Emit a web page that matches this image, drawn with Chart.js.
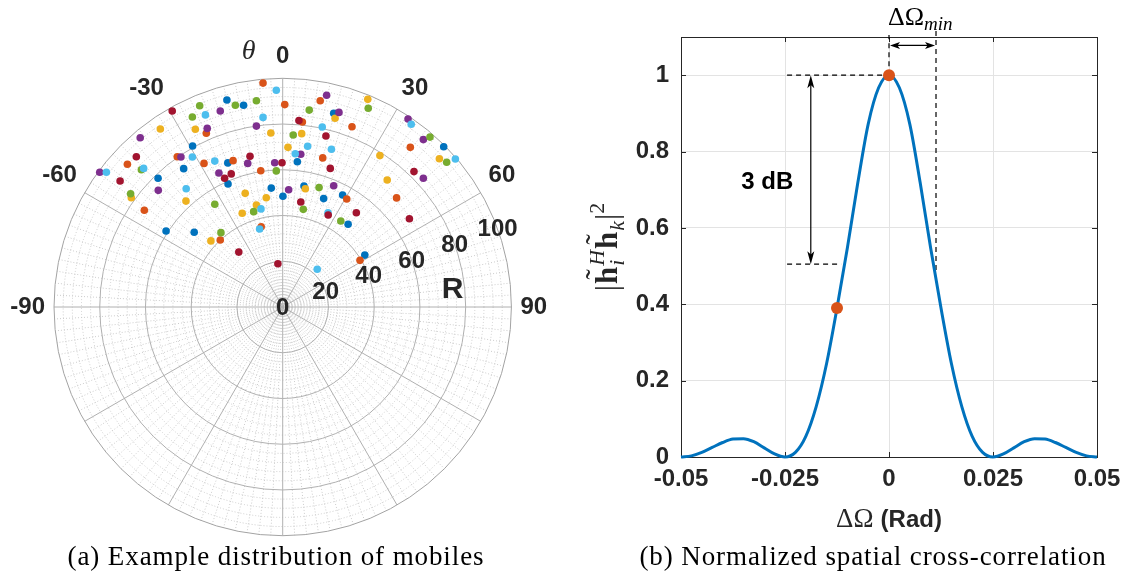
<!DOCTYPE html>
<html>
<head>
<meta charset="utf-8">
<title>Mobiles and spatial cross-correlation</title>
<script src="https://cdn.jsdelivr.net/npm/chart.js@4.4.1/dist/chart.umd.min.js"></script>
<style>
    html, body { margin: 0; padding: 0; background: #fff; }
    body { width: 1129px; height: 580px; position: relative; overflow: hidden; }
    .panel { position: absolute; top: 0; }
    #polarPanel { left: 0; }
    #corrPanel { left: 565px; }
    .caption {
        position: absolute;
        top: 541px;
        line-height: 30px;
        font-family: "Liberation Serif", "Times New Roman", serif;
        font-size: 27px;
        letter-spacing: 0.9px;
        color: #000;
        white-space: nowrap;
        transform: translateX(-50%);
    }
</style>
</head>
<body>
<div class="panel" id="polarPanel"><canvas id="polarChart" width="565" height="580"></canvas></div>
<div class="panel" id="corrPanel"><canvas id="corrChart" width="564" height="580"></canvas></div>
<div class="caption" style="left:276px">(a) Example distribution of mobiles</div>
<div class="caption" style="left:873px">(b) Normalized spatial cross-correlation</div>

<script>
/**
 * Left: mobile positions per cluster, [east, north] offsets in metres
 */
const cluster1 = [[-39.4, 70.4], [-43.3, 60.5], [-24.4, 90.5], [-17.1, 88.2], [22.3, 84.7], [-24.0, 63.0],
    [-23.9, 53.8], [6.4, 63.5], [70.4, 70.1], [-54.5, 56.3], [-51.0, 33.2], [-38.7, 32.7], [-5.0, 52.0],
    [0.1, 48.4], [9.3, 52.9], [17.9, 47.4], [26.2, 49.0], [28.6, 36.2], [35.9, 22.7]];
const cluster2 = [[-8.6, 97.9], [0.9, 88.5], [16.4, 90.2], [8.6, 80.9], [-33.4, 76.0], [-67.9, 62.4],
    [-46.1, 65.7], [-34.4, 62.8], [-21.7, 64.0], [17.5, 65.2], [-9.6, 59.6], [30.3, 78.8], [55.8, 69.8],
    [-60.5, 42.3], [-27.3, 29.3], [-9.4, 35.1], [28.0, 47.2], [49.8, 47.7], [33.8, 20.4]];
const cluster3 = [[-53.5, 77.8], [-38.2, 77.7], [-5.2, 76.1], [8.3, 75.8], [22.9, 82.5], [2.3, 69.8],
    [37.2, 90.8], [42.5, 66.2], [68.5, 64.8], [-66.2, 47.8], [-42.3, 46.3], [-31.4, 28.9], [-16.4, 49.7],
    [-7.2, 47.8], [9.9, 51.7], [-11.5, 44.6], [-17.7, 41.0], [45.7, 55.5]];
const cluster4 = [[-33.0, 78.1], [-62.3, 74.0], [-44.5, 65.6], [-80.0, 58.9], [-27.3, 85.7], [19.2, 92.6],
    [24.6, 85.1], [-11.5, 79.1], [7.9, 66.8], [-15.3, 62.8], [-3.5, 63.1], [-27.9, 58.6], [54.8, 82.2],
    [61.5, 73.2], [-54.4, 51.0], [2.6, 51.3], [22.3, 53.0], [61.5, 56.3]];
const cluster5 = [[-36.3, 88.0], [-39.5, 83.1], [-20.7, 88.2], [-11.5, 90.2], [11.6, 86.1], [4.6, 75.2],
    [-61.8, 60.0], [-2.8, 59.5], [37.4, 86.9], [64.4, 74.3], [71.7, 63.3], [-66.5, 49.5], [-29.7, 44.9],
    [15.9, 52.2], [-12.7, 41.7], [9.0, 42.7], [25.4, 37.6], [-27.0, 32.5]];
const cluster6 = [[-2.8, 94.8], [-33.8, 84.0], [-8.6, 82.9], [-39.5, 65.6], [-60.8, 60.6], [-77.1, 58.9],
    [-29.7, 63.8], [17.3, 78.7], [10.9, 70.3], [21.3, 69.0], [5.5, 67.0], [56.2, 79.9], [75.5, 64.7],
    [-42.2, 51.7], [-9.5, 42.9], [19.8, 41.2], [-10.1, 34.1], [15.1, 16.5]];
const cluster7 = [[-48.3, 85.7], [7.1, 81.5], [18.9, 74.8], [-64.0, 65.7], [-14.3, 65.9], [-0.3, 63.1],
    [20.8, 60.6], [-22.5, 58.2], [-25.4, 56.3], [-71.1, 55.1], [7.9, 45.9], [19.9, 40.2], [32.2, 41.2],
    [55.4, 38.6], [57.4, 59.2], [-19.2, 24.0], [-2.1, 18.9]];

const clusterColors = ['#0072BD', '#D95319', '#EDB120', '#7E2F8E', '#77AC30', '#4DBEEE', '#A2142F'];

const thetaTicks = [-90, -60, -30, 0, 30, 60, 90];
const thetaTickLabels = ['-90', '-60', '-30', '0', '30', '60', '90'];
const rTicks = [0, 20, 40, 60, 80, 100];
const rTickLabels = ['0', '20', '40', '60', '80', '100'];

/**
 * Right: normalized cross-correlation against angular separation (rad)
 */
const deltaOmega = [-0.05, -0.0475, -0.045, -0.0425, -0.04, -0.0375, -0.035, -0.0325, -0.03, -0.0275,
    -0.025, -0.0225, -0.02, -0.0175, -0.015, -0.0125, -0.01, -0.0075, -0.005, -0.0025,
    0, 0.0025, 0.005, 0.0075, 0.01, 0.0125, 0.015, 0.0175, 0.02, 0.0225,
    0.025, 0.0275, 0.03, 0.0325, 0.035, 0.0375, 0.04, 0.0425, 0.045, 0.0475, 0.05];
const correlation = [0.000, 0.003, 0.012, 0.025, 0.038, 0.047, 0.048, 0.040, 0.024, 0.008,
    0.000, 0.012, 0.054, 0.132, 0.245, 0.390, 0.548, 0.718, 0.872, 0.967,
    1.000, 0.967, 0.872, 0.718, 0.548, 0.390, 0.245, 0.132, 0.054, 0.012,
    0.000, 0.008, 0.024, 0.040, 0.048, 0.047, 0.038, 0.025, 0.012, 0.003, 0.000];
const markerOmega = [0, -0.0125];
const markerCorr = [1, 0.39];

const xTicks = [-0.05, -0.025, 0, 0.025, 0.05];
const xTickLabels = ['-0.05', '-0.025', '0', '0.025', '0.05'];
const yTicks = [0, 0.2, 0.4, 0.6, 0.8, 1];
const yTickLabels = ['0', '0.2', '0.4', '0.6', '0.8', '1'];

// annotation levels: 3 dB span and minimum separation
const halfPower = 0.505;
const minSeparation = 0.0113;

const SANS = '"Liberation Sans", Arial, sans-serif';
const SERIF = '"Liberation Serif", "Times New Roman", serif';
const TEXT = '#262626';

document.addEventListener('DOMContentLoaded', function() {
    drawPolarChart();
    drawCorrelationChart();
});

/**
 * Polar grid, theta and R labels for the scatter of mobiles
 */
const polarGrid = {
    id: 'polarGrid',
    beforeDatasetsDraw(chart) {
        const ctx = chart.ctx;
        const xs = chart.scales.x, ys = chart.scales.y;
        const cx = xs.getPixelForValue(0);
        const cy = ys.getPixelForValue(0);
        const radius = r => xs.getPixelForValue(r) - cx;
        const outer = radius(100);
        const spoke = (deg, r) => {
            const a = deg * Math.PI / 180;
            ctx.beginPath();
            ctx.moveTo(cx, cy);
            ctx.lineTo(cx + r * Math.sin(a), cy - r * Math.cos(a));
            ctx.stroke();
        };
        const ring = r => {
            ctx.beginPath();
            ctx.arc(cx, cy, r, 0, Math.PI * 2);
            ctx.stroke();
        };

        ctx.save();
        // minor grid, dotted
        ctx.strokeStyle = '#cccccc';
        ctx.lineWidth = 1;
        ctx.setLineDash([1, 2]);
        for (let r = 4; r < 100; r += 4) {
            if (r % 20 !== 0) ring(radius(r));
        }
        for (let deg = 0; deg < 360; deg += 3) {
            if (deg % 30 !== 0) spoke(deg, outer);
        }

        // major grid
        ctx.setLineDash([]);
        ctx.strokeStyle = '#b0b0b0';
        for (let deg = 0; deg < 360; deg += 30) spoke(deg, outer);
        rTicks.slice(1, -1).forEach(r => ring(radius(r)));
        ctx.strokeStyle = '#a3a3a3';
        ring(outer);

        // theta tick labels around the edge
        ctx.fillStyle = TEXT;
        ctx.font = 'bold 24px ' + SANS;
        ctx.textAlign = 'center';
        ctx.textBaseline = 'middle';
        const r0 = outer + 9;
        thetaTicks.forEach((deg, i) => {
            const a = deg * Math.PI / 180;
            const s = Math.sin(a), c = Math.cos(a);
            const w = ctx.measureText(thetaTickLabels[i]).width;
            const ox = Math.abs(s) > 0.01 ? Math.sign(s) * w / 2 : 0;
            const oy = Math.abs(c) > 0.01 ? -Math.sign(c) * 13 : 0;
            ctx.fillText(thetaTickLabels[i], cx + r0 * s + ox, cy - r0 * c + oy);
        });

        // R tick labels along the 70 degree ray
        const ra = 70 * Math.PI / 180;
        rTicks.forEach((r, i) => {
            const d = radius(r);
            ctx.fillText(rTickLabels[i], cx + d * Math.sin(ra), cy - d * Math.cos(ra) + 1);
        });

        ctx.font = 'bold 30px ' + SANS;
        ctx.fillText('R', cx + 170, cy - 17);

        ctx.font = 'italic 28px ' + SERIF;
        ctx.fillText('θ', cx - 34, cy - outer - 27);
        ctx.restore();
    }
};

function drawPolarChart() {
    const clusters = [cluster1, cluster2, cluster3, cluster4, cluster5, cluster6, cluster7];

    new Chart(document.getElementById('polarChart'), {
        type: 'scatter',
        data: {
            datasets: clusters.map((pts, i) => ({
                data: pts.map(p => ({ x: p[0], y: p[1] })),
                backgroundColor: clusterColors[i],
                borderWidth: 0,
                pointRadius: 3.8,
                order: clusters.length - i
            }))
        },
        options: {
            responsive: false,
            animation: false,
            events: [],
            layout: { padding: { left: 54, right: 53.6, top: 78.3, bottom: 44.3 } },
            scales: {
                x: { type: 'linear', min: -100, max: 100, display: false },
                y: { type: 'linear', min: -100, max: 100, display: false }
            },
            plugins: { legend: { display: false }, tooltip: { enabled: false } }
        },
        plugins: [polarGrid]
    });
}

/**
 * Arrow head pointing along angle, tip at (x, y)
 */
function arrowHead(ctx, x, y, angle, len, half) {
    ctx.save();
    ctx.translate(x, y);
    ctx.rotate(angle);
    ctx.beginPath();
    ctx.moveTo(0, 0);
    ctx.lineTo(-len, -half);
    ctx.lineTo(-len * 0.75, 0);
    ctx.lineTo(-len, half);
    ctx.closePath();
    ctx.fill();
    ctx.restore();
}

// draws a list of text runs left to right, returns total width
function drawRuns(ctx, runs, x, y, measureOnly) {
    let pos = x;
    runs.forEach(run => {
        ctx.font = run.font;
        const w = ctx.measureText(run.text).width;
        let adv = w;
        if (!measureOnly) ctx.fillText(run.text, pos, y + (run.dy || 0));
        if (run.tilde && !measureOnly) {
            ctx.font = run.tildeFont;
            const tw = ctx.measureText('˜').width;
            ctx.fillText('˜', pos + (w - tw) / 2 + 1, y - 10);
        }
        if (run.sub || run.sup) {
            let sw = 0;
            [['sub', 7], ['sup', -13]].forEach(([key, dy]) => {
                if (!run[key]) return;
                ctx.font = run.smallFont;
                const ww = ctx.measureText(run[key]).width;
                if (!measureOnly) ctx.fillText(run[key], pos + w + 1, y + dy);
                sw = Math.max(sw, ww + 2);
            });
            adv += sw;
        }
        pos += adv + (run.gap || 0);
    });
    return pos - x;
}

/**
 * Box, inward ticks, annotations and axis titles for the correlation plot
 */
const corrDecor = {
    id: 'corrDecor',
    beforeDatasetsDraw(chart) {
        const ctx = chart.ctx;
        const area = chart.chartArea;
        const xs = chart.scales.x, ys = chart.scales.y;

        ctx.save();
        ctx.strokeStyle = TEXT;
        ctx.lineWidth = 1;
        ctx.strokeRect(Math.round(area.left) + 0.5, Math.round(area.top) + 0.5,
            Math.round(area.width), Math.round(area.height));
        ctx.beginPath();
        xTicks.forEach(v => {
            const px = Math.round(xs.getPixelForValue(v)) + 0.5;
            ctx.moveTo(px, area.bottom); ctx.lineTo(px, area.bottom - 5);
            ctx.moveTo(px, area.top); ctx.lineTo(px, area.top + 5);
        });
        yTicks.forEach(v => {
            const py = Math.round(ys.getPixelForValue(v)) + 0.5;
            ctx.moveTo(area.left, py); ctx.lineTo(area.left + 5, py);
            ctx.moveTo(area.right, py); ctx.lineTo(area.right - 5, py);
        });
        ctx.stroke();

        // dashed guides for the 3 dB span and the minimum separation
        const x0 = xs.getPixelForValue(0);
        const xMin = xs.getPixelForValue(minSeparation);
        const xLeft = xs.getPixelForValue(-0.0245);
        const yPeak = ys.getPixelForValue(1);
        const yHalf = ys.getPixelForValue(halfPower);
        ctx.strokeStyle = '#000';
        ctx.lineWidth = 1.2;
        ctx.setLineDash([5, 4]);
        ctx.beginPath();
        ctx.moveTo(xLeft, yPeak); ctx.lineTo(x0, yPeak);
        ctx.moveTo(xLeft, yHalf); ctx.lineTo(xs.getPixelForValue(-0.0115), yHalf);
        ctx.moveTo(x0, yPeak); ctx.lineTo(x0, area.top - 2);
        ctx.moveTo(xMin, ys.getPixelForValue(0.49)); ctx.lineTo(xMin, area.top - 8);
        ctx.stroke();
        ctx.setLineDash([]);

        // double arrows
        ctx.fillStyle = '#000';
        const xa = xs.getPixelForValue(-0.0188);
        ctx.beginPath();
        ctx.moveTo(xa, yPeak + 6); ctx.lineTo(xa, yHalf - 6);
        ctx.stroke();
        arrowHead(ctx, xa, yPeak, -Math.PI / 2, 13, 3.5);
        arrowHead(ctx, xa, yHalf, Math.PI / 2, 13, 3.5);

        const ya = ys.getPixelForValue(1.078);
        ctx.beginPath();
        ctx.moveTo(x0 + 5, ya); ctx.lineTo(xMin - 5, ya);
        ctx.stroke();
        arrowHead(ctx, x0 + 1, ya, Math.PI, 10, 3.5);
        arrowHead(ctx, xMin - 1, ya, 0, 10, 3.5);

        // labels
        ctx.fillStyle = '#000';
        ctx.font = 'bold 24px ' + SANS;
        ctx.textAlign = 'right';
        ctx.textBaseline = 'middle';
        ctx.fillText('3 dB', xs.getPixelForValue(-0.0230), ys.getPixelForValue(0.72));

        ctx.textAlign = 'left';
        ctx.textBaseline = 'alphabetic';
        drawRuns(ctx, [
            { text: 'ΔΩ', font: '26px ' + SERIF },
            { text: 'min', font: 'italic 19px ' + SERIF, dy: 5 }
        ], x0 - 1, 25);

        // x axis title
        const xRuns = [
            { text: 'ΔΩ', font: '27px ' + SERIF, gap: 7 },
            { text: '(Rad)', font: 'bold 24px ' + SANS }
        ];
        const xw = drawRuns(ctx, xRuns, 0, 0, true);
        ctx.fillStyle = TEXT;
        drawRuns(ctx, xRuns, (area.left + area.right) / 2 - xw / 2, area.bottom + 70);

        // y axis title, rotated
        const yRuns = [
            { text: '|', font: '31px ' + SERIF, gap: 1 },
            { text: 'h', font: 'bold 31px ' + SERIF, tilde: true, tildeFont: '31px ' + SERIF,
              sub: 'i', sup: 'H', smallFont: 'italic 22px ' + SERIF },
            { text: 'h', font: 'bold 31px ' + SERIF, tilde: true, tildeFont: '31px ' + SERIF,
              sub: 'k', smallFont: 'italic 22px ' + SERIF },
            { text: '|', font: '31px ' + SERIF },
            { text: '2', font: '22px ' + SERIF, dy: -13 }
        ];
        const yw = drawRuns(ctx, yRuns, 0, 0, true);
        ctx.translate(area.left - 64, (area.top + area.bottom) / 2);
        ctx.rotate(-Math.PI / 2);
        drawRuns(ctx, yRuns, -yw / 2, 0);
        ctx.restore();
    }
};

function drawCorrelationChart() {
    const curve = deltaOmega.map((v, i) => ({ x: v, y: correlation[i] }));
    const markers = markerOmega.map((v, i) => ({ x: v, y: markerCorr[i] }));
    const tickFont = { family: SANS, size: 24, weight: 'bold' };

    new Chart(document.getElementById('corrChart'), {
        type: 'scatter',
        data: {
            datasets: [
                {
                    data: markers,
                    backgroundColor: '#D95319',
                    borderWidth: 0,
                    pointRadius: 6,
                    order: 0
                },
                {
                    data: curve,
                    showLine: true,
                    borderColor: '#0072BD',
                    borderWidth: 3,
                    pointRadius: 0,
                    cubicInterpolationMode: 'monotone',
                    clip: 4,
                    order: 1
                }
            ]
        },
        options: {
            responsive: false,
            animation: false,
            events: [],
            layout: { padding: { left: 0, right: 32, top: 37, bottom: 0 } },
            scales: {
                x: {
                    type: 'linear',
                    min: -0.05,
                    max: 0.05,
                    afterBuildTicks: s => { s.ticks = xTicks.map(v => ({ value: v })); },
                    afterFit: s => { s.height = 123; },
                    border: { display: false },
                    grid: { color: '#e3e3e3', drawTicks: false },
                    ticks: {
                        autoSkip: false,
                        maxRotation: 0,
                        padding: 8,
                        color: TEXT,
                        font: tickFont,
                        callback: v => xTickLabels[xTicks.indexOf(v)]
                    }
                },
                y: {
                    type: 'linear',
                    min: 0,
                    max: 1.1,
                    afterBuildTicks: s => { s.ticks = yTicks.map(v => ({ value: v })); },
                    afterFit: s => { s.width = 116; },
                    border: { display: false },
                    grid: { color: '#e3e3e3', drawTicks: false },
                    ticks: {
                        padding: 12,
                        color: TEXT,
                        font: tickFont,
                        callback: v => yTickLabels[yTicks.indexOf(v)]
                    }
                }
            },
            plugins: { legend: { display: false }, tooltip: { enabled: false } }
        },
        plugins: [corrDecor]
    });
}
</script>
</body>
</html>
